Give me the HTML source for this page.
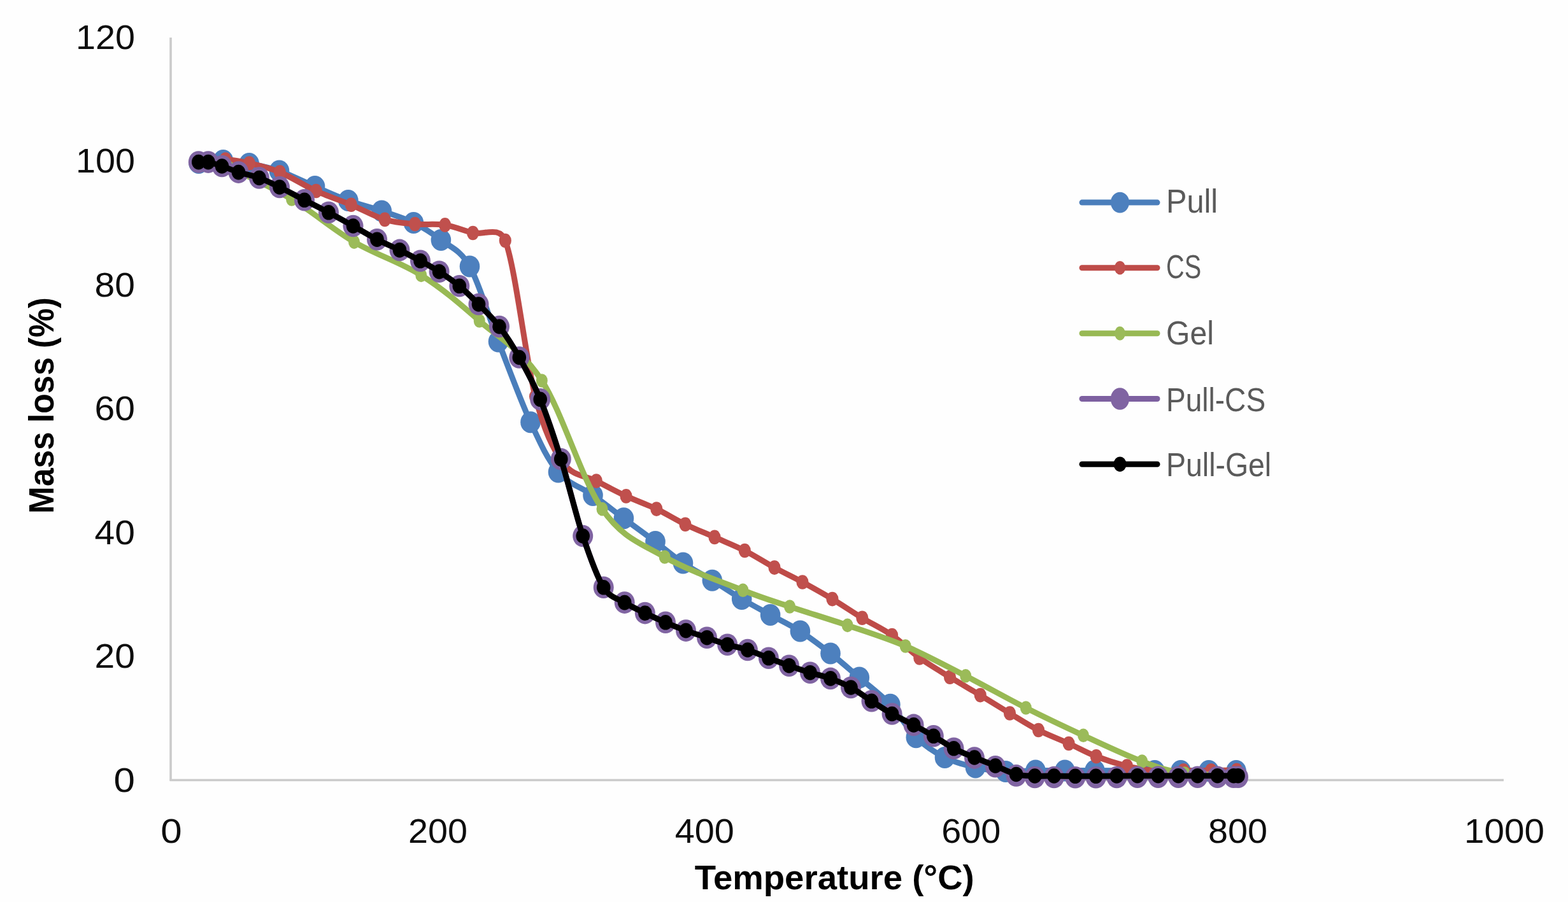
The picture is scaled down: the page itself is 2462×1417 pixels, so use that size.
<!DOCTYPE html>
<html><head><meta charset="utf-8"><title>TGA</title>
<style>
html,body{margin:0;padding:0;background:#fff;}
svg{display:block;filter:blur(0.6px);}
.tk{font-family:"Liberation Sans",Arial,sans-serif;font-size:54px;fill:#0d0d0d;}
.tt{font-family:"Liberation Sans",Arial,sans-serif;font-size:53.5px;font-weight:bold;fill:#000;}
.lg{font-family:"Liberation Sans",Arial,sans-serif;font-size:52px;fill:#5a5a5a;}
</style></head><body>
<svg width="2462" height="1417" viewBox="0 0 2462 1417">
<rect x="0" y="0" width="2462" height="1417" fill="#fefefe"/>
<g stroke="#cbcbcb" stroke-width="3.6" fill="none"><line x1="268" y1="59" x2="268" y2="1226.8"/><line x1="266.7" y1="1225.5" x2="2361" y2="1225.5"/></g>
<text class="tk" x="212" y="1243.5" text-anchor="end" textLength="33.4" lengthAdjust="spacingAndGlyphs">0</text>
<text class="tk" x="212" y="1049.1" text-anchor="end" textLength="63.4" lengthAdjust="spacingAndGlyphs">20</text>
<text class="tk" x="212" y="854.7" text-anchor="end" textLength="63.4" lengthAdjust="spacingAndGlyphs">40</text>
<text class="tk" x="212" y="660.2" text-anchor="end" textLength="63.4" lengthAdjust="spacingAndGlyphs">60</text>
<text class="tk" x="212" y="465.8" text-anchor="end" textLength="63.4" lengthAdjust="spacingAndGlyphs">80</text>
<text class="tk" x="212" y="271.4" text-anchor="end" textLength="93.0" lengthAdjust="spacingAndGlyphs">100</text>
<text class="tk" x="212" y="77.0" text-anchor="end" textLength="93.0" lengthAdjust="spacingAndGlyphs">120</text>
<text class="tk" x="269.0" y="1323.5" text-anchor="middle" textLength="33.4" lengthAdjust="spacingAndGlyphs">0</text>
<text class="tk" x="687.6" y="1323.5" text-anchor="middle" textLength="93.0" lengthAdjust="spacingAndGlyphs">200</text>
<text class="tk" x="1106.2" y="1323.5" text-anchor="middle" textLength="93.0" lengthAdjust="spacingAndGlyphs">400</text>
<text class="tk" x="1524.8" y="1323.5" text-anchor="middle" textLength="93.0" lengthAdjust="spacingAndGlyphs">600</text>
<text class="tk" x="1943.4" y="1323.5" text-anchor="middle" textLength="93.0" lengthAdjust="spacingAndGlyphs">800</text>
<text class="tk" x="2362.0" y="1323.5" text-anchor="middle" textLength="126.0" lengthAdjust="spacingAndGlyphs">1000</text>
<text class="tt" x="1310.2" y="1397" text-anchor="middle" textLength="439" lengthAdjust="spacingAndGlyphs">Temperature (°C)</text>
<text class="tt" style="font-size:55.5px" transform="translate(83.6,637) rotate(-90)" x="0" y="0" text-anchor="middle" textLength="339.8" lengthAdjust="spacingAndGlyphs">Mass loss (%)</text>
<g><path d="M312.0,256.0 C318.4,255.3 337.2,251.8 350.4,252.0 C363.6,252.2 376.5,254.2 391.2,257.0 C405.9,259.8 421.3,262.5 438.5,268.5 C455.7,274.5 476.4,285.2 494.5,293.0 C512.5,300.8 529.3,308.6 546.8,315.0 C564.3,321.4 582.2,325.7 599.3,331.5 C616.4,337.3 633.9,342.4 649.4,350.0 C664.9,357.6 677.7,365.6 692.4,377.0 C707.1,388.4 722.5,391.9 737.5,418.5 C752.5,445.1 766.6,495.7 782.5,536.5 C798.4,577.3 817.3,629.0 833.0,663.2 C848.7,697.4 860.2,722.4 876.5,741.5 C892.8,760.6 913.9,765.9 931.0,778.0 C948.1,790.1 963.1,802.1 979.4,814.3 C995.7,826.5 1013.5,839.3 1029.0,851.0 C1044.5,862.7 1057.6,874.4 1072.5,884.5 C1087.4,894.6 1102.9,902.3 1118.3,911.7 C1133.7,921.1 1149.5,932.0 1164.7,941.0 C1179.9,950.0 1194.3,957.5 1209.6,965.9 C1224.9,974.3 1240.7,981.5 1256.4,991.6 C1272.1,1001.7 1288.5,1014.2 1304.0,1026.4 C1319.5,1038.6 1333.6,1051.2 1349.3,1064.6 C1365.0,1078.0 1383.1,1091.2 1397.9,1106.8 C1412.7,1122.4 1424.0,1144.3 1438.3,1158.2 C1452.6,1172.1 1468.0,1182.1 1483.5,1190.0 C1499.0,1197.9 1515.6,1201.8 1531.5,1205.5 C1547.4,1209.2 1563.2,1211.2 1579.0,1212.0 C1594.8,1212.8 1610.5,1210.8 1626.0,1210.5 C1641.5,1210.2 1656.5,1210.5 1672.0,1210.5 C1687.5,1210.5 1695.5,1210.4 1719.0,1210.5 C1742.5,1210.6 1790.5,1210.9 1813.0,1211.0 C1833.5,1211.1 1839.8,1211.0 1854.0,1211.0 C1868.2,1211.0 1883.5,1211.0 1898.0,1211.0 C1912.5,1211.0 1933.8,1211.0 1941.0,1211.0" fill="none" stroke="#4A7EBB" stroke-width="9.0" stroke-linejoin="round" stroke-linecap="round"/><ellipse cx="312.0" cy="256.0" rx="15.8" ry="17.0" fill="#4D80BE"/><ellipse cx="350.4" cy="252.0" rx="15.8" ry="17.0" fill="#4D80BE"/><ellipse cx="391.2" cy="257.0" rx="15.8" ry="17.0" fill="#4D80BE"/><ellipse cx="438.5" cy="268.5" rx="15.8" ry="17.0" fill="#4D80BE"/><ellipse cx="494.5" cy="293.0" rx="15.8" ry="17.0" fill="#4D80BE"/><ellipse cx="546.8" cy="315.0" rx="15.8" ry="17.0" fill="#4D80BE"/><ellipse cx="599.3" cy="331.5" rx="15.8" ry="17.0" fill="#4D80BE"/><ellipse cx="649.4" cy="350.0" rx="15.8" ry="17.0" fill="#4D80BE"/><ellipse cx="692.4" cy="377.0" rx="15.8" ry="17.0" fill="#4D80BE"/><ellipse cx="737.5" cy="418.5" rx="15.8" ry="17.0" fill="#4D80BE"/><ellipse cx="782.5" cy="536.5" rx="15.8" ry="17.0" fill="#4D80BE"/><ellipse cx="833.0" cy="663.2" rx="15.8" ry="17.0" fill="#4D80BE"/><ellipse cx="876.5" cy="741.5" rx="15.8" ry="17.0" fill="#4D80BE"/><ellipse cx="931.0" cy="778.0" rx="15.8" ry="17.0" fill="#4D80BE"/><ellipse cx="979.4" cy="814.3" rx="15.8" ry="17.0" fill="#4D80BE"/><ellipse cx="1029.0" cy="851.0" rx="15.8" ry="17.0" fill="#4D80BE"/><ellipse cx="1072.5" cy="884.5" rx="15.8" ry="17.0" fill="#4D80BE"/><ellipse cx="1118.3" cy="911.7" rx="15.8" ry="17.0" fill="#4D80BE"/><ellipse cx="1164.7" cy="941.0" rx="15.8" ry="17.0" fill="#4D80BE"/><ellipse cx="1209.6" cy="965.9" rx="15.8" ry="17.0" fill="#4D80BE"/><ellipse cx="1256.4" cy="991.6" rx="15.8" ry="17.0" fill="#4D80BE"/><ellipse cx="1304.0" cy="1026.4" rx="15.8" ry="17.0" fill="#4D80BE"/><ellipse cx="1349.3" cy="1064.6" rx="15.8" ry="17.0" fill="#4D80BE"/><ellipse cx="1397.9" cy="1106.8" rx="15.8" ry="17.0" fill="#4D80BE"/><ellipse cx="1438.3" cy="1158.2" rx="15.8" ry="17.0" fill="#4D80BE"/><ellipse cx="1483.5" cy="1190.0" rx="15.8" ry="17.0" fill="#4D80BE"/><ellipse cx="1531.5" cy="1205.5" rx="15.8" ry="17.0" fill="#4D80BE"/><ellipse cx="1579.0" cy="1212.0" rx="15.8" ry="17.0" fill="#4D80BE"/><ellipse cx="1626.0" cy="1210.5" rx="15.8" ry="17.0" fill="#4D80BE"/><ellipse cx="1672.0" cy="1210.5" rx="15.8" ry="17.0" fill="#4D80BE"/><ellipse cx="1719.0" cy="1210.5" rx="15.8" ry="17.0" fill="#4D80BE"/><ellipse cx="1813.0" cy="1211.0" rx="15.8" ry="17.0" fill="#4D80BE"/><ellipse cx="1854.0" cy="1211.0" rx="15.8" ry="17.0" fill="#4D80BE"/><ellipse cx="1898.0" cy="1211.0" rx="15.8" ry="17.0" fill="#4D80BE"/><ellipse cx="1941.0" cy="1211.0" rx="15.8" ry="17.0" fill="#4D80BE"/></g>
<g><path d="M314.0,252.5 C320.7,252.2 341.1,249.9 354.0,250.6 C366.9,251.3 377.2,253.2 391.4,256.5 C405.6,259.8 421.9,263.2 439.4,270.5 C456.9,277.8 477.6,291.4 496.3,300.0 C515.0,308.6 533.4,314.3 551.4,321.8 C569.4,329.3 587.5,339.9 604.2,344.9 C620.9,349.9 635.8,350.6 651.5,352.0 C667.2,353.4 683.5,351.1 698.7,353.4 C713.9,355.7 726.7,361.9 742.5,366.0 C758.3,370.1 784.0,353.6 793.3,378.0 C809.6,420.8 825.4,564.8 840.5,623.0 C854.7,677.6 868.0,704.9 884.0,727.0 C900.0,749.1 919.8,746.9 936.3,755.6 C952.8,764.3 967.4,772.1 983.1,779.4 C998.9,786.7 1015.3,792.2 1030.8,799.6 C1046.3,807.0 1060.8,816.3 1076.0,823.7 C1091.2,831.1 1106.5,837.0 1122.0,843.9 C1137.5,850.8 1153.6,857.0 1169.3,865.0 C1185.0,873.0 1200.9,883.4 1216.0,891.6 C1231.1,899.9 1244.8,906.2 1260.0,914.5 C1275.2,922.8 1291.3,931.7 1306.9,941.1 C1322.5,950.5 1338.2,961.3 1353.8,970.8 C1369.4,980.3 1385.6,987.6 1400.6,998.0 C1415.6,1008.4 1428.6,1022.5 1443.8,1033.4 C1459.0,1044.4 1475.6,1053.9 1491.5,1063.7 C1507.4,1073.5 1523.5,1082.6 1539.2,1092.1 C1554.9,1101.6 1570.3,1111.3 1585.5,1120.5 C1600.7,1129.7 1615.1,1139.1 1630.5,1147.0 C1645.9,1154.9 1663.0,1161.1 1678.1,1168.0 C1693.2,1174.9 1706.1,1182.4 1721.3,1188.3 C1736.5,1194.2 1754.2,1199.8 1769.5,1203.5 C1784.8,1207.2 1798.2,1209.3 1813.0,1210.5 C1827.8,1211.7 1843.5,1210.5 1858.3,1210.5 C1873.0,1210.5 1887.6,1210.6 1901.5,1210.5 C1915.4,1210.4 1935.1,1210.1 1941.8,1210.0" fill="none" stroke="#BE4B48" stroke-width="9.0" stroke-linejoin="round" stroke-linecap="round"/><ellipse cx="314.0" cy="252.5" rx="9.6" ry="11.3" fill="#C0504D"/><ellipse cx="354.0" cy="250.6" rx="9.6" ry="11.3" fill="#C0504D"/><ellipse cx="391.4" cy="256.5" rx="9.6" ry="11.3" fill="#C0504D"/><ellipse cx="439.4" cy="270.5" rx="9.6" ry="11.3" fill="#C0504D"/><ellipse cx="496.3" cy="300.0" rx="9.6" ry="11.3" fill="#C0504D"/><ellipse cx="551.4" cy="321.8" rx="9.6" ry="11.3" fill="#C0504D"/><ellipse cx="604.2" cy="344.9" rx="9.6" ry="11.3" fill="#C0504D"/><ellipse cx="651.5" cy="352.0" rx="9.6" ry="11.3" fill="#C0504D"/><ellipse cx="698.7" cy="353.4" rx="9.6" ry="11.3" fill="#C0504D"/><ellipse cx="742.5" cy="366.0" rx="9.6" ry="11.3" fill="#C0504D"/><ellipse cx="793.3" cy="378.0" rx="9.6" ry="11.3" fill="#C0504D"/><ellipse cx="840.5" cy="623.0" rx="9.6" ry="11.3" fill="#C0504D"/><ellipse cx="884.0" cy="727.0" rx="9.6" ry="11.3" fill="#C0504D"/><ellipse cx="936.3" cy="755.6" rx="9.6" ry="11.3" fill="#C0504D"/><ellipse cx="983.1" cy="779.4" rx="9.6" ry="11.3" fill="#C0504D"/><ellipse cx="1030.8" cy="799.6" rx="9.6" ry="11.3" fill="#C0504D"/><ellipse cx="1076.0" cy="823.7" rx="9.6" ry="11.3" fill="#C0504D"/><ellipse cx="1122.0" cy="843.9" rx="9.6" ry="11.3" fill="#C0504D"/><ellipse cx="1169.3" cy="865.0" rx="9.6" ry="11.3" fill="#C0504D"/><ellipse cx="1216.0" cy="891.6" rx="9.6" ry="11.3" fill="#C0504D"/><ellipse cx="1260.0" cy="914.5" rx="9.6" ry="11.3" fill="#C0504D"/><ellipse cx="1306.9" cy="941.1" rx="9.6" ry="11.3" fill="#C0504D"/><ellipse cx="1353.8" cy="970.8" rx="9.6" ry="11.3" fill="#C0504D"/><ellipse cx="1400.6" cy="998.0" rx="9.6" ry="11.3" fill="#C0504D"/><ellipse cx="1443.8" cy="1033.4" rx="9.6" ry="11.3" fill="#C0504D"/><ellipse cx="1491.5" cy="1063.7" rx="9.6" ry="11.3" fill="#C0504D"/><ellipse cx="1539.2" cy="1092.1" rx="9.6" ry="11.3" fill="#C0504D"/><ellipse cx="1585.5" cy="1120.5" rx="9.6" ry="11.3" fill="#C0504D"/><ellipse cx="1630.5" cy="1147.0" rx="9.6" ry="11.3" fill="#C0504D"/><ellipse cx="1678.1" cy="1168.0" rx="9.6" ry="11.3" fill="#C0504D"/><ellipse cx="1721.3" cy="1188.3" rx="9.6" ry="11.3" fill="#C0504D"/><ellipse cx="1769.5" cy="1203.5" rx="9.6" ry="11.3" fill="#C0504D"/><ellipse cx="1813.0" cy="1210.5" rx="9.6" ry="11.3" fill="#C0504D"/><ellipse cx="1858.3" cy="1210.5" rx="9.6" ry="11.3" fill="#C0504D"/><ellipse cx="1901.5" cy="1210.5" rx="9.6" ry="11.3" fill="#C0504D"/><ellipse cx="1941.8" cy="1210.0" rx="9.6" ry="11.3" fill="#C0504D"/></g>
<g><path d="M312.0,254.0 C320.0,255.7 337.3,254.8 360.0,264.0 C384.3,273.8 425.3,293.6 458.0,313.0 C490.7,332.4 522.1,360.2 556.0,380.1 C589.9,400.0 628.5,411.8 661.3,432.4 C694.1,453.0 721.1,476.4 752.7,504.0 C784.3,531.6 818.7,548.7 850.8,598.0 C882.9,647.3 913.4,753.4 945.5,799.6 C977.6,845.8 1006.9,853.7 1043.7,875.0 C1080.5,896.3 1133.8,914.3 1166.5,927.3 C1199.2,940.3 1212.6,943.8 1240.0,953.0 C1267.4,962.2 1300.4,972.1 1330.7,982.4 C1361.0,992.7 1390.8,1001.8 1421.7,1015.0 C1452.6,1028.2 1484.7,1045.6 1516.2,1061.8 C1547.7,1078.0 1580.0,1096.4 1610.8,1112.0 C1641.6,1127.6 1670.6,1141.3 1701.0,1155.3 C1731.4,1169.3 1766.7,1186.1 1793.2,1196.1 C1819.7,1206.0 1835.4,1211.7 1860.0,1215.0 C1884.6,1218.3 1927.5,1215.8 1941.0,1216.0" fill="none" stroke="#98B954" stroke-width="9.0" stroke-linejoin="round" stroke-linecap="round"/><ellipse cx="312.0" cy="254.0" rx="9.0" ry="10.8" fill="#9BBB59"/><ellipse cx="360.0" cy="264.0" rx="9.0" ry="10.8" fill="#9BBB59"/><ellipse cx="458.0" cy="313.0" rx="9.0" ry="10.8" fill="#9BBB59"/><ellipse cx="556.0" cy="380.1" rx="9.0" ry="10.8" fill="#9BBB59"/><ellipse cx="661.3" cy="432.4" rx="9.0" ry="10.8" fill="#9BBB59"/><ellipse cx="752.7" cy="504.0" rx="9.0" ry="10.8" fill="#9BBB59"/><ellipse cx="850.8" cy="598.0" rx="9.0" ry="10.8" fill="#9BBB59"/><ellipse cx="945.5" cy="799.6" rx="9.0" ry="10.8" fill="#9BBB59"/><ellipse cx="1043.7" cy="875.0" rx="9.0" ry="10.8" fill="#9BBB59"/><ellipse cx="1166.5" cy="927.3" rx="9.0" ry="10.8" fill="#9BBB59"/><ellipse cx="1240.0" cy="953.0" rx="9.0" ry="10.8" fill="#9BBB59"/><ellipse cx="1330.7" cy="982.4" rx="9.0" ry="10.8" fill="#9BBB59"/><ellipse cx="1421.7" cy="1015.0" rx="9.0" ry="10.8" fill="#9BBB59"/><ellipse cx="1516.2" cy="1061.8" rx="9.0" ry="10.8" fill="#9BBB59"/><ellipse cx="1610.8" cy="1112.0" rx="9.0" ry="10.8" fill="#9BBB59"/><ellipse cx="1701.0" cy="1155.3" rx="9.0" ry="10.8" fill="#9BBB59"/><ellipse cx="1793.2" cy="1196.1" rx="9.0" ry="10.8" fill="#9BBB59"/><ellipse cx="1860.0" cy="1215.0" rx="9.0" ry="10.8" fill="#9BBB59"/><ellipse cx="1941.0" cy="1216.0" rx="9.0" ry="10.8" fill="#9BBB59"/></g>
<g><path d="M311.8,254.6 C314.3,254.6 320.9,253.5 327.0,254.6 C333.1,255.7 340.6,258.3 348.5,261.0 C356.4,263.7 364.8,267.5 374.5,270.6 C384.2,273.7 396.2,275.6 407.0,279.5 C417.8,283.4 427.2,288.2 439.0,294.0 C450.8,299.8 465.2,307.7 478.0,314.3 C490.8,320.9 503.2,327.0 516.0,333.8 C528.8,340.6 541.8,347.9 554.5,355.0 C567.2,362.1 579.8,369.9 592.0,376.2 C604.2,382.5 616.2,387.3 627.5,392.9 C638.8,398.5 649.6,404.2 660.0,409.8 C670.4,415.4 679.4,420.1 689.6,426.7 C699.8,433.3 711.0,440.8 721.3,449.3 C731.6,457.9 741.0,467.4 751.5,478.0 C762.0,488.6 773.4,499.1 784.0,513.0 C794.6,526.9 804.6,542.5 815.3,561.5 C826.0,580.5 837.3,600.7 848.2,627.3 C859.1,653.9 869.6,685.4 880.8,721.2 C892.0,757.0 904.1,808.4 915.2,842.0 C926.4,875.6 936.8,905.4 947.7,922.8 C958.5,940.0 969.9,939.9 980.7,946.6 C991.6,953.3 1002.1,957.9 1012.8,963.1 C1023.5,968.3 1034.3,973.2 1045.0,977.8 C1055.7,982.4 1066.2,986.6 1077.0,990.6 C1087.8,994.6 1099.1,998.0 1110.0,1001.7 C1120.9,1005.4 1131.5,1009.5 1142.2,1012.7 C1152.9,1015.9 1163.1,1017.5 1173.9,1021.0 C1184.7,1024.5 1196.1,1029.7 1206.9,1033.8 C1217.8,1037.9 1228.2,1041.9 1239.0,1045.7 C1249.8,1049.5 1261.2,1053.3 1272.0,1056.7 C1282.8,1060.1 1293.3,1062.0 1304.0,1065.9 C1314.7,1069.8 1325.2,1074.1 1336.0,1080.0 C1346.8,1085.9 1357.7,1094.4 1368.5,1101.3 C1379.3,1108.2 1389.6,1115.2 1400.6,1121.5 C1411.6,1127.8 1423.7,1133.1 1434.6,1138.9 C1445.5,1144.7 1455.3,1150.2 1465.8,1156.3 C1476.3,1162.4 1486.9,1170.1 1497.6,1175.8 C1508.3,1181.5 1519.1,1185.9 1530.0,1190.6 C1540.9,1195.3 1552.0,1199.6 1562.9,1204.3 C1573.8,1208.9 1585.3,1215.6 1595.6,1218.4 C1605.9,1221.2 1614.9,1220.6 1624.8,1221.0 C1634.7,1221.4 1644.4,1221.0 1655.0,1221.0 C1665.6,1221.0 1677.3,1221.2 1688.3,1221.3 C1699.2,1221.3 1709.8,1221.3 1720.7,1221.3 C1731.6,1221.2 1742.5,1221.1 1753.4,1221.0 C1764.3,1220.9 1775.1,1220.8 1785.9,1220.7 C1796.7,1220.7 1807.7,1220.7 1818.4,1220.7 C1829.1,1220.7 1839.8,1220.7 1850.1,1220.7 C1860.4,1220.7 1870.2,1220.7 1880.4,1220.7 C1890.7,1220.7 1902.2,1220.7 1911.6,1220.7 C1921.0,1220.7 1931.6,1220.7 1937.0,1220.7 C1940.5,1220.7 1942.8,1220.7 1944.0,1220.7" fill="none" stroke="#7D60A0" stroke-width="9.0" stroke-linejoin="round" stroke-linecap="round"/><ellipse cx="311.8" cy="254.6" rx="16.0" ry="17.3" fill="#8064A2"/><ellipse cx="327.0" cy="254.6" rx="16.0" ry="17.3" fill="#8064A2"/><ellipse cx="348.5" cy="261.0" rx="16.0" ry="17.3" fill="#8064A2"/><ellipse cx="374.5" cy="270.6" rx="16.0" ry="17.3" fill="#8064A2"/><ellipse cx="407.0" cy="279.5" rx="16.0" ry="17.3" fill="#8064A2"/><ellipse cx="439.0" cy="294.0" rx="16.0" ry="17.3" fill="#8064A2"/><ellipse cx="478.0" cy="314.3" rx="16.0" ry="17.3" fill="#8064A2"/><ellipse cx="516.0" cy="333.8" rx="16.0" ry="17.3" fill="#8064A2"/><ellipse cx="554.5" cy="355.0" rx="16.0" ry="17.3" fill="#8064A2"/><ellipse cx="592.0" cy="376.2" rx="16.0" ry="17.3" fill="#8064A2"/><ellipse cx="627.5" cy="392.9" rx="16.0" ry="17.3" fill="#8064A2"/><ellipse cx="660.0" cy="409.8" rx="16.0" ry="17.3" fill="#8064A2"/><ellipse cx="689.6" cy="426.7" rx="16.0" ry="17.3" fill="#8064A2"/><ellipse cx="721.3" cy="449.3" rx="16.0" ry="17.3" fill="#8064A2"/><ellipse cx="751.5" cy="478.0" rx="16.0" ry="17.3" fill="#8064A2"/><ellipse cx="784.0" cy="513.0" rx="16.0" ry="17.3" fill="#8064A2"/><ellipse cx="815.3" cy="561.5" rx="16.0" ry="17.3" fill="#8064A2"/><ellipse cx="848.2" cy="627.3" rx="16.0" ry="17.3" fill="#8064A2"/><ellipse cx="880.8" cy="721.2" rx="16.0" ry="17.3" fill="#8064A2"/><ellipse cx="915.2" cy="842.0" rx="16.0" ry="17.3" fill="#8064A2"/><ellipse cx="947.7" cy="922.8" rx="16.0" ry="17.3" fill="#8064A2"/><ellipse cx="980.7" cy="946.6" rx="16.0" ry="17.3" fill="#8064A2"/><ellipse cx="1012.8" cy="963.1" rx="16.0" ry="17.3" fill="#8064A2"/><ellipse cx="1045.0" cy="977.8" rx="16.0" ry="17.3" fill="#8064A2"/><ellipse cx="1077.0" cy="990.6" rx="16.0" ry="17.3" fill="#8064A2"/><ellipse cx="1110.0" cy="1001.7" rx="16.0" ry="17.3" fill="#8064A2"/><ellipse cx="1142.2" cy="1012.7" rx="16.0" ry="17.3" fill="#8064A2"/><ellipse cx="1173.9" cy="1021.0" rx="16.0" ry="17.3" fill="#8064A2"/><ellipse cx="1206.9" cy="1033.8" rx="16.0" ry="17.3" fill="#8064A2"/><ellipse cx="1239.0" cy="1045.7" rx="16.0" ry="17.3" fill="#8064A2"/><ellipse cx="1272.0" cy="1056.7" rx="16.0" ry="17.3" fill="#8064A2"/><ellipse cx="1304.0" cy="1065.9" rx="16.0" ry="17.3" fill="#8064A2"/><ellipse cx="1336.0" cy="1080.0" rx="16.0" ry="17.3" fill="#8064A2"/><ellipse cx="1368.5" cy="1101.3" rx="16.0" ry="17.3" fill="#8064A2"/><ellipse cx="1400.6" cy="1121.5" rx="16.0" ry="17.3" fill="#8064A2"/><ellipse cx="1434.6" cy="1138.9" rx="16.0" ry="17.3" fill="#8064A2"/><ellipse cx="1465.8" cy="1156.3" rx="16.0" ry="17.3" fill="#8064A2"/><ellipse cx="1497.6" cy="1175.8" rx="16.0" ry="17.3" fill="#8064A2"/><ellipse cx="1530.0" cy="1190.6" rx="16.0" ry="17.3" fill="#8064A2"/><ellipse cx="1562.9" cy="1204.3" rx="16.0" ry="17.3" fill="#8064A2"/><ellipse cx="1595.6" cy="1218.4" rx="16.0" ry="17.3" fill="#8064A2"/><ellipse cx="1624.8" cy="1221.0" rx="16.0" ry="17.3" fill="#8064A2"/><ellipse cx="1655.0" cy="1221.0" rx="16.0" ry="17.3" fill="#8064A2"/><ellipse cx="1688.3" cy="1221.3" rx="16.0" ry="17.3" fill="#8064A2"/><ellipse cx="1720.7" cy="1221.3" rx="16.0" ry="17.3" fill="#8064A2"/><ellipse cx="1753.4" cy="1221.0" rx="16.0" ry="17.3" fill="#8064A2"/><ellipse cx="1785.9" cy="1220.7" rx="16.0" ry="17.3" fill="#8064A2"/><ellipse cx="1818.4" cy="1220.7" rx="16.0" ry="17.3" fill="#8064A2"/><ellipse cx="1850.1" cy="1220.7" rx="16.0" ry="17.3" fill="#8064A2"/><ellipse cx="1880.4" cy="1220.7" rx="16.0" ry="17.3" fill="#8064A2"/><ellipse cx="1911.6" cy="1220.7" rx="16.0" ry="17.3" fill="#8064A2"/><ellipse cx="1937.0" cy="1220.7" rx="16.0" ry="17.3" fill="#8064A2"/><ellipse cx="1944.0" cy="1220.7" rx="16.0" ry="17.3" fill="#8064A2"/></g>
<g><path d="M311.8,254.6 C314.3,254.6 320.9,253.5 327.0,254.6 C333.1,255.7 340.6,258.3 348.5,261.0 C356.4,263.7 364.8,267.5 374.5,270.6 C384.2,273.7 396.2,275.6 407.0,279.5 C417.8,283.4 427.2,288.2 439.0,294.0 C450.8,299.8 465.2,307.7 478.0,314.3 C490.8,320.9 503.2,327.0 516.0,333.8 C528.8,340.6 541.8,347.9 554.5,355.0 C567.2,362.1 579.8,369.9 592.0,376.2 C604.2,382.5 616.2,387.3 627.5,392.9 C638.8,398.5 649.6,404.2 660.0,409.8 C670.4,415.4 679.4,420.1 689.6,426.7 C699.8,433.3 711.0,440.8 721.3,449.3 C731.6,457.9 741.0,467.4 751.5,478.0 C762.0,488.6 773.4,499.1 784.0,513.0 C794.6,526.9 804.6,542.5 815.3,561.5 C826.0,580.5 837.3,600.7 848.2,627.3 C859.1,653.9 869.6,685.4 880.8,721.2 C892.0,757.0 904.1,808.4 915.2,842.0 C926.4,875.6 936.8,905.4 947.7,922.8 C958.5,940.0 969.9,939.9 980.7,946.6 C991.6,953.3 1002.1,957.9 1012.8,963.1 C1023.5,968.3 1034.3,973.2 1045.0,977.8 C1055.7,982.4 1066.2,986.6 1077.0,990.6 C1087.8,994.6 1099.1,998.0 1110.0,1001.7 C1120.9,1005.4 1131.5,1009.5 1142.2,1012.7 C1152.9,1015.9 1163.1,1017.5 1173.9,1021.0 C1184.7,1024.5 1196.1,1029.7 1206.9,1033.8 C1217.8,1037.9 1228.2,1041.9 1239.0,1045.7 C1249.8,1049.5 1261.2,1053.3 1272.0,1056.7 C1282.8,1060.1 1293.3,1062.0 1304.0,1065.9 C1314.7,1069.8 1325.2,1074.1 1336.0,1080.0 C1346.8,1085.9 1357.7,1094.4 1368.5,1101.3 C1379.3,1108.2 1389.6,1115.2 1400.6,1121.5 C1411.6,1127.8 1423.7,1133.1 1434.6,1138.9 C1445.5,1144.7 1455.3,1150.2 1465.8,1156.3 C1476.3,1162.4 1486.9,1170.2 1497.6,1175.8 C1508.3,1181.4 1519.1,1185.5 1530.0,1190.0 C1540.9,1194.5 1552.0,1198.6 1562.9,1203.0 C1573.8,1207.4 1585.3,1213.8 1595.6,1216.5 C1605.9,1219.2 1614.9,1218.6 1624.8,1219.0 C1634.7,1219.4 1644.4,1219.0 1655.0,1219.0 C1665.6,1219.0 1677.3,1219.2 1688.3,1219.3 C1699.2,1219.3 1709.8,1219.3 1720.7,1219.3 C1731.6,1219.2 1742.5,1219.1 1753.4,1219.0 C1764.3,1218.9 1775.1,1218.8 1785.9,1218.7 C1796.7,1218.7 1807.7,1218.7 1818.4,1218.7 C1829.1,1218.7 1839.8,1218.7 1850.1,1218.7 C1860.4,1218.7 1870.2,1218.7 1880.4,1218.7 C1890.7,1218.7 1902.2,1218.7 1911.6,1218.7 C1921.0,1218.7 1931.6,1218.7 1937.0,1218.7 C1940.5,1218.7 1942.8,1218.7 1944.0,1218.7" fill="none" stroke="#000000" stroke-width="9.0" stroke-linejoin="round" stroke-linecap="round"/><ellipse cx="311.8" cy="254.6" rx="10.8" ry="11.8" fill="#000000"/><ellipse cx="327.0" cy="254.6" rx="10.8" ry="11.8" fill="#000000"/><ellipse cx="348.5" cy="261.0" rx="10.8" ry="11.8" fill="#000000"/><ellipse cx="374.5" cy="270.6" rx="10.8" ry="11.8" fill="#000000"/><ellipse cx="407.0" cy="279.5" rx="10.8" ry="11.8" fill="#000000"/><ellipse cx="439.0" cy="294.0" rx="10.8" ry="11.8" fill="#000000"/><ellipse cx="478.0" cy="314.3" rx="10.8" ry="11.8" fill="#000000"/><ellipse cx="516.0" cy="333.8" rx="10.8" ry="11.8" fill="#000000"/><ellipse cx="554.5" cy="355.0" rx="10.8" ry="11.8" fill="#000000"/><ellipse cx="592.0" cy="376.2" rx="10.8" ry="11.8" fill="#000000"/><ellipse cx="627.5" cy="392.9" rx="10.8" ry="11.8" fill="#000000"/><ellipse cx="660.0" cy="409.8" rx="10.8" ry="11.8" fill="#000000"/><ellipse cx="689.6" cy="426.7" rx="10.8" ry="11.8" fill="#000000"/><ellipse cx="721.3" cy="449.3" rx="10.8" ry="11.8" fill="#000000"/><ellipse cx="751.5" cy="478.0" rx="10.8" ry="11.8" fill="#000000"/><ellipse cx="784.0" cy="513.0" rx="10.8" ry="11.8" fill="#000000"/><ellipse cx="815.3" cy="561.5" rx="10.8" ry="11.8" fill="#000000"/><ellipse cx="848.2" cy="627.3" rx="10.8" ry="11.8" fill="#000000"/><ellipse cx="880.8" cy="721.2" rx="10.8" ry="11.8" fill="#000000"/><ellipse cx="915.2" cy="842.0" rx="10.8" ry="11.8" fill="#000000"/><ellipse cx="947.7" cy="922.8" rx="10.8" ry="11.8" fill="#000000"/><ellipse cx="980.7" cy="946.6" rx="10.8" ry="11.8" fill="#000000"/><ellipse cx="1012.8" cy="963.1" rx="10.8" ry="11.8" fill="#000000"/><ellipse cx="1045.0" cy="977.8" rx="10.8" ry="11.8" fill="#000000"/><ellipse cx="1077.0" cy="990.6" rx="10.8" ry="11.8" fill="#000000"/><ellipse cx="1110.0" cy="1001.7" rx="10.8" ry="11.8" fill="#000000"/><ellipse cx="1142.2" cy="1012.7" rx="10.8" ry="11.8" fill="#000000"/><ellipse cx="1173.9" cy="1021.0" rx="10.8" ry="11.8" fill="#000000"/><ellipse cx="1206.9" cy="1033.8" rx="10.8" ry="11.8" fill="#000000"/><ellipse cx="1239.0" cy="1045.7" rx="10.8" ry="11.8" fill="#000000"/><ellipse cx="1272.0" cy="1056.7" rx="10.8" ry="11.8" fill="#000000"/><ellipse cx="1304.0" cy="1065.9" rx="10.8" ry="11.8" fill="#000000"/><ellipse cx="1336.0" cy="1080.0" rx="10.8" ry="11.8" fill="#000000"/><ellipse cx="1368.5" cy="1101.3" rx="10.8" ry="11.8" fill="#000000"/><ellipse cx="1400.6" cy="1121.5" rx="10.8" ry="11.8" fill="#000000"/><ellipse cx="1434.6" cy="1138.9" rx="10.8" ry="11.8" fill="#000000"/><ellipse cx="1465.8" cy="1156.3" rx="10.8" ry="11.8" fill="#000000"/><ellipse cx="1497.6" cy="1175.8" rx="10.8" ry="11.8" fill="#000000"/><ellipse cx="1530.0" cy="1190.0" rx="10.8" ry="11.8" fill="#000000"/><ellipse cx="1562.9" cy="1203.0" rx="10.8" ry="11.8" fill="#000000"/><ellipse cx="1595.6" cy="1216.5" rx="10.8" ry="11.8" fill="#000000"/><ellipse cx="1624.8" cy="1219.0" rx="10.8" ry="11.8" fill="#000000"/><ellipse cx="1655.0" cy="1219.0" rx="10.8" ry="11.8" fill="#000000"/><ellipse cx="1688.3" cy="1219.3" rx="10.8" ry="11.8" fill="#000000"/><ellipse cx="1720.7" cy="1219.3" rx="10.8" ry="11.8" fill="#000000"/><ellipse cx="1753.4" cy="1219.0" rx="10.8" ry="11.8" fill="#000000"/><ellipse cx="1785.9" cy="1218.7" rx="10.8" ry="11.8" fill="#000000"/><ellipse cx="1818.4" cy="1218.7" rx="10.8" ry="11.8" fill="#000000"/><ellipse cx="1850.1" cy="1218.7" rx="10.8" ry="11.8" fill="#000000"/><ellipse cx="1880.4" cy="1218.7" rx="10.8" ry="11.8" fill="#000000"/><ellipse cx="1911.6" cy="1218.7" rx="10.8" ry="11.8" fill="#000000"/><ellipse cx="1937.0" cy="1218.7" rx="10.8" ry="11.8" fill="#000000"/><ellipse cx="1944.0" cy="1218.7" rx="10.8" ry="11.8" fill="#000000"/></g>
<line x1="1699" y1="318.1" x2="1817" y2="318.1" stroke="#4A7EBB" stroke-width="9.0" stroke-linecap="round"/><ellipse cx="1758.5" cy="318.1" rx="14.6" ry="16.3" fill="#4D80BE"/><text class="lg" x="1831" y="334.4" textLength="81.2" lengthAdjust="spacingAndGlyphs">Pull</text>
<line x1="1699" y1="420.7" x2="1817" y2="420.7" stroke="#BE4B48" stroke-width="9.0" stroke-linecap="round"/><ellipse cx="1758.5" cy="420.7" rx="8.6" ry="10.8" fill="#C0504D"/><text class="lg" x="1831" y="436.5" textLength="55.1" lengthAdjust="spacingAndGlyphs">CS</text>
<line x1="1699" y1="523.8" x2="1817" y2="523.8" stroke="#98B954" stroke-width="9.0" stroke-linecap="round"/><ellipse cx="1758.5" cy="523.8" rx="8.4" ry="11.0" fill="#9BBB59"/><text class="lg" x="1831" y="540.5" textLength="74.9" lengthAdjust="spacingAndGlyphs">Gel</text>
<line x1="1699" y1="626.5" x2="1817" y2="626.5" stroke="#7D60A0" stroke-width="9.0" stroke-linecap="round"/><ellipse cx="1758.5" cy="626.5" rx="14.6" ry="17.3" fill="#8064A2"/><text class="lg" x="1831" y="645.6" textLength="156.1" lengthAdjust="spacingAndGlyphs">Pull-CS</text>
<line x1="1699" y1="729.2" x2="1817" y2="729.2" stroke="#000000" stroke-width="9.0" stroke-linecap="round"/><ellipse cx="1758.5" cy="729.2" rx="10.0" ry="11.8" fill="#000000"/><text class="lg" x="1831" y="748.2" textLength="165.2" lengthAdjust="spacingAndGlyphs">Pull-Gel</text>
</svg>
</body></html>
